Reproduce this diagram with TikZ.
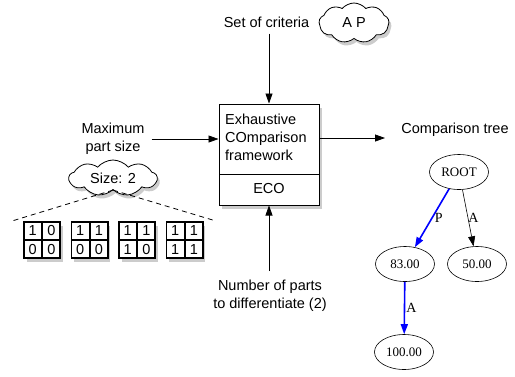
\documentclass[tikz,border=0pt]{standalone}
\usepackage{fontspec}
\setmainfont{Liberation Sans}
\newfontfamily\treefont{Liberation Serif}
\usetikzlibrary{arrows.meta,positioning,shapes.geometric,shapes.symbols,shadows}
\definecolor{edgeblue}{HTML}{0000FF}

\begin{document}
\begin{tikzpicture}[x=1pt, y=-1pt, every node/.style={font=\fontsize{14.5}{18}\selectfont}, label/.style={align=center,inner sep=1pt}, shade/.style={drop shadow={opacity=0.4,shadow xshift=2.5pt,shadow yshift=-3.5pt}}, frame/.style={draw,fill=white,line width=1pt,shade}, puff/.style={cloud,cloud puffs=9,cloud puff arc=100,cloud ignores aspect,draw,fill=white,line width=0.8pt,inner sep=0pt,shade}, cell/.style={draw,minimum size=18pt,inner sep=0pt,line width=0.6pt}, arr/.style={-{Triangle[length=10pt,width=7pt]},line width=0.8pt}, tnode/.style={ellipse,draw,line width=0.6pt,minimum width=59pt,minimum height=35pt,inner sep=0pt,font=\treefont\fontsize{13}{15}\selectfont}, tlabel/.style={inner sep=2pt,font=\treefont\fontsize{14}{16}\selectfont}, tarr/.style={-{Triangle[length=10pt,width=7pt]},line width=0.6pt}]
\useasboundingbox (0,0) rectangle (515,376);
% framework box
\node[frame,minimum width=100pt,minimum height=101pt] (eco) at (269,154.5) {};
\node[label,align=left,anchor=north west] (econame) at (224,113) {Exhaustive\\COmparison\\framework};
\draw[line width=1pt] (219,174) -- (319,174);
\node (ecolabel) at (269,189) {ECO};
% inputs
\node[label] (criteria) at (266.5,22) {Set of criteria};
\node[puff,minimum width=70pt,minimum height=40pt] (ap) at (354,23) {A P};
\draw[arr,shorten <=5pt] (eco.north |- criteria.south) -- (eco.north);
\node[label] (maxsize) at (113,139) {Maximum\\part size};
\draw[arr,shorten <=6pt] (maxsize) -- (eco.west |- maxsize);
\coordinate (dashl) at (12,221);
\coordinate (dashr) at (216,221);
\node[puff,minimum width=88pt,minimum height=36pt] (size) at (113,178) {Size: 2};
\draw[dashed,line width=0.8pt,dash pattern=on 5pt off 4pt] (size.south) -- (dashl);
\draw[dashed,line width=0.8pt,dash pattern=on 5pt off 4pt] (size.south) -- (dashr);
\foreach \a/\b/\c/\d [count=\i from 0] in {1/0/0/0,1/1/0/0,1/1/1/0,1/1/1/1} {
  \node[frame,minimum size=36pt,inner sep=0pt,line width=1.2pt] (part\i) at ({42+47.5*\i},240) {};
  \node[cell,anchor=south east] (part\i a) at (part\i.center) {\a};
  \node[cell,anchor=south west] (part\i b) at (part\i.center) {\b};
  \node[cell,anchor=north east] (part\i c) at (part\i.center) {\c};
  \node[cell,anchor=north west] (part\i d) at (part\i.center) {\d};
}
\node[label] (nparts) at (270,296) {Number of parts\\to differentiate (2)};
\draw[arr,shorten <=8pt] (eco.south |- nparts.north) -- (eco.south);
% output
\node[label] (tree) at (455,130) {Comparison tree};
\coordinate (out) at (385,138);
\draw[arr] (eco.east |- out) -- (out);
% comparison tree
\node[tnode] (root) at (459,172) {ROOT};
\node[tnode] (n83) at (405,264) {83.00};
\node[tnode] (n50) at (477,264) {50.00};
\node[tnode] (n100) at (404,352) {100.00};
\draw[tarr,draw=edgeblue,line width=1.6pt] (root) -- node[tlabel,right]{P} (n83);
\draw[tarr] (root) -- node[tlabel,right=-2pt]{A} (n50);
\draw[tarr,draw=edgeblue,line width=1.6pt] (n83) -- node[tlabel,right=-1pt]{A} (n100);
\end{tikzpicture}
\end{document}
